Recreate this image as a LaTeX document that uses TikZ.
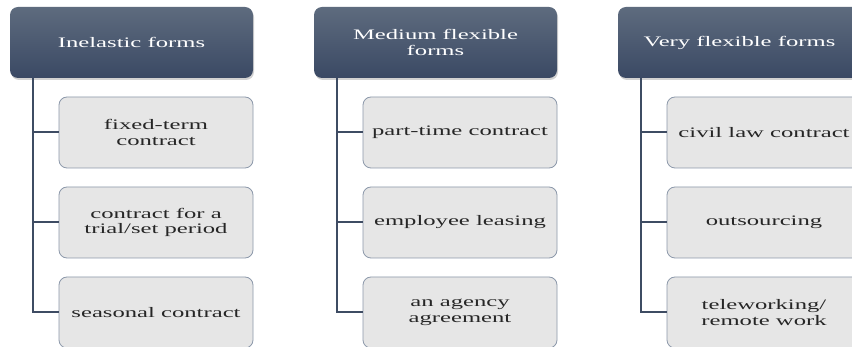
\documentclass[tikz,border=0pt]{standalone}
\usepackage{fontspec}
\setmainfont{Liberation Serif}[FakeStretch=1.7]
\usepackage{xcolor}
\usetikzlibrary{shadows}

\definecolor{headtop}{HTML}{5E6B7E}
\definecolor{headbot}{HTML}{3A4964}
\definecolor{linecol}{HTML}{3E4C63}
\definecolor{boxfill}{HTML}{E6E6E6}
\definecolor{boxline}{HTML}{8C98AA}

\begin{document}
\begin{tikzpicture}[x=1pt, y=-1pt]
  \tikzset{formhead/.style={rectangle, rounded corners=8pt,
                             minimum width=243pt, minimum height=71pt,
                             top color=headtop, bottom color=headbot,
                             draw=none, text=white, align=center,
                             font=\fontsize{14.5}{15.5}\selectfont,
                             drop shadow={opacity=0.35, shadow xshift=1pt,
                                          shadow yshift=-2pt}},
           formbox/.style={rectangle, rounded corners=8pt,
                           minimum width=194pt, minimum height=71pt,
                           fill=boxfill, draw=boxline, line width=0.8pt,
                           text=black!85, align=center,
                           font=\fontsize{14.5}{15.5}\selectfont},
           tree/.style={draw=linecol, line width=2pt}}

\clip (0,0) rectangle (852,347);
\fill[white] (0,0) rectangle (852,347);

% column 1
\node[formhead] (inel) at (131.5,42.5) {Inelastic forms};
\node[formbox] (fixed) at (156,132.5) {fixed-term\\contract};
\node[formbox] (trial) at (156,222.5) {contract for a\\trial/set period};
\node[formbox] (season) at (156,312.5) {seasonal contract};

% column 2
\node[formhead] (medium) at (435.5,42.5) {Medium flexible\\forms};
\node[formbox] (part) at (460,132.5) {part-time contract};
\node[formbox] (leasing) at (460,222.5) {employee leasing};
\node[formbox] (agency) at (460,312.5) {an agency\\agreement};

% column 3
\node[formhead] (very) at (739.5,42.5) {Very flexible forms};
\node[formbox] (civil) at (764,132.5) {civil law contract};
\node[formbox] (outs) at (764,222.5) {outsourcing};
\node[formbox] (tele) at (764,312.5) {teleworking/\\remote work};

% connectors
\coordinate (inelA) at ([xshift=23.5pt]inel.south west);
\coordinate (mediumA) at ([xshift=23.5pt]medium.south west);
\coordinate (veryA) at ([xshift=23.5pt]very.south west);

\draw[tree] (inelA) |- (fixed.west);
\draw[tree] (inelA) |- (trial.west);
\draw[tree] (inelA) |- (season.west);
\draw[tree] (mediumA) |- (part.west);
\draw[tree] (mediumA) |- (leasing.west);
\draw[tree] (mediumA) |- (agency.west);
\draw[tree] (veryA) |- (civil.west);
\draw[tree] (veryA) |- (outs.west);
\draw[tree] (veryA) |- (tele.west);
\end{tikzpicture}
\end{document}
